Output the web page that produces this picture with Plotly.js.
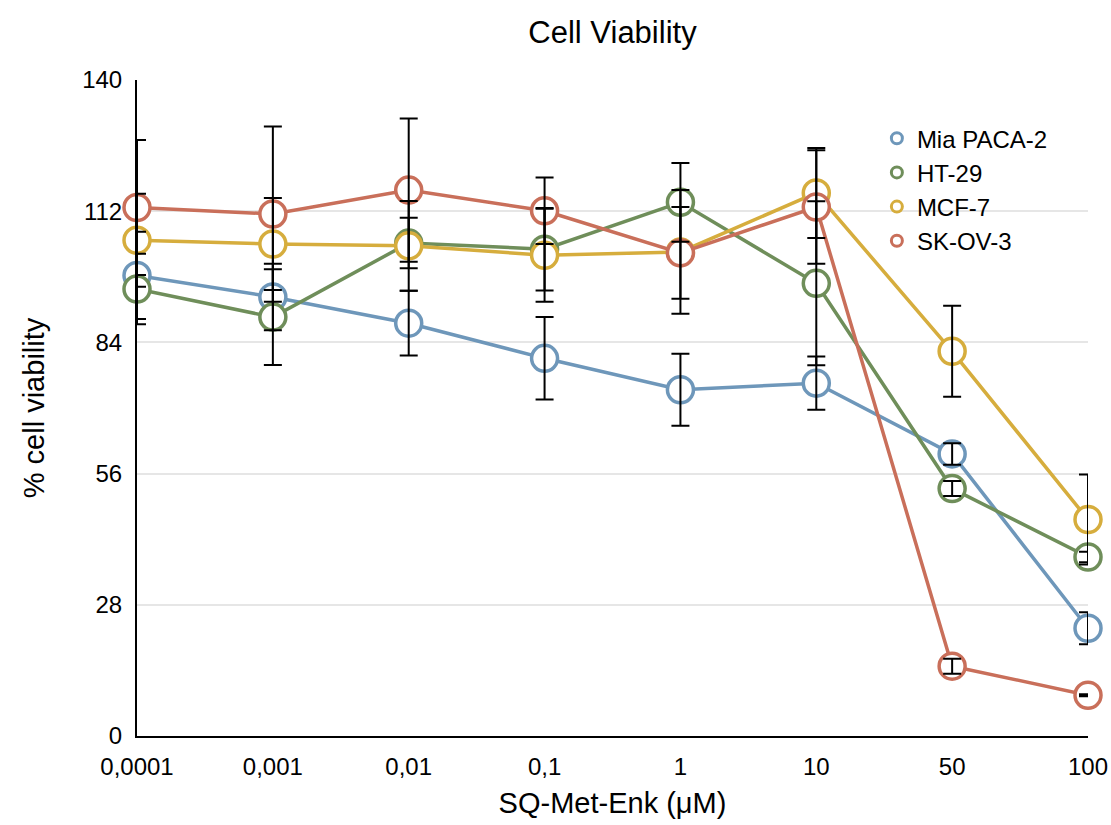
<!DOCTYPE html>
<html>
<head>
<meta charset="utf-8">
<script src="https://cdn.plot.ly/plotly-3.0.1.min.js"></script>
<style>html,body{margin:0;padding:0;background:#fff;}#chart{width:1111px;height:825px;}</style>
</head>
<body>
<div id="chart"></div>
<script>
const categories = ["0,0001", "0,001", "0,01", "0,1", "1", "10", "50", "100"];
const seriesNames = ["Mia PACA-2", "HT-29", "MCF-7", "SK-OV-3"];
const miaPaca2 = [98.3, 93.7, 88.1, 80.6, 73.9, 75.3, 60.2, 23.0];
const miaPaca2Err = [9.3, 7.1, 6.9, 8.8, 7.7, 5.7, 2.3, 3.4];
const ht29 = [95.4, 89.4, 105.2, 103.9, 113.9, 96.6, 52.8, 38.2];
const ht29Err = [7.5, 10.2, 5.4, 8.8, 8.4, 17.5, 1.6, 1.1];
const mcf7 = [105.8, 105.0, 104.6, 102.6, 103.3, 115.9, 82.1, 46.2];
const mcf7Err = [9.9, 9.8, 9.6, 9.9, 13.2, 9.6, 9.7, 9.6];
const skov3 = [112.8, 111.4, 116.5, 112.1, 103.1, 112.9, 14.9, 8.7];
const skov3Err = [14.4, 18.7, 15.3, 7.1, 9.8, 12.1, 1.6, 0.2];
const yTicks = [0, 28, 56, 84, 112, 140];

const colors = ["#6e97ba", "#6f8e5a", "#d6ad3d", "#c96f5a"];
const values = [miaPaca2, ht29, mcf7, skov3];
const errors = [miaPaca2Err, ht29Err, mcf7Err, skov3Err];

const font = "Liberation Sans, Arial, Helvetica, sans-serif";
const traces = [];
for (let i = 0; i < 4; i++) {
  traces.push({
    type: "scatter", mode: "lines+markers", x: categories, y: values[i],
    name: seriesNames[i], showlegend: false, cliponaxis: false,
    line: {color: colors[i], width: 3.5},
    marker: {symbol: "circle", size: 26, color: "#ffffff", line: {color: colors[i], width: 3.5}}
  });
}
for (let i = 0; i < 4; i++) {
  traces.push({
    type: "scatter", mode: "markers", x: categories, y: values[i],
    showlegend: false, hoverinfo: "skip", cliponaxis: false,
    marker: {size: 1, opacity: 0},
    error_y: {type: "data", array: errors[i], visible: true, color: "#000000", thickness: 2, width: 9}
  });
}
for (let i = 0; i < 4; i++) {
  traces.push({
    type: "scatter", mode: "markers", x: [null], y: [null], name: seriesNames[i],
    marker: {symbol: "circle", size: 11, color: "#ffffff", line: {color: colors[i], width: 3}}
  });
}

const layout = {
  width: 1111, height: 825,
  margin: {l: 137, r: 23, t: 80, b: 89},
  paper_bgcolor: "#ffffff", plot_bgcolor: "#ffffff",
  font: {family: font, color: "#000000", size: 24},
  title: {text: "Cell Viability", font: {family: font, size: 31, color: "#000"}, x: 0.5, xref: "paper", y: 1 - 32/825, yref: "container", yanchor: "middle"},
  xaxis: {
    type: "category", range: [0, 7], showgrid: false, zeroline: false,
    showline: true, linecolor: "#000", linewidth: 2, ticks: "",
    ticklabelstandoff: 8,
    tickfont: {family: font, size: 24, color: "#000"},
    title: {text: "SQ-Met-Enk (μM)", font: {family: font, size: 29, color: "#000"}, standoff: 14}
  },
  yaxis: {
    range: [0, 140], tickvals: yTicks, ticktext: yTicks.map(String),
    showgrid: true, gridcolor: "#e6e6e6", gridwidth: 2, zeroline: false,
    showline: true, linecolor: "#000", linewidth: 2, ticks: "",
    ticklabelstandoff: 8,
    tickfont: {family: font, size: 24, color: "#000"},
    title: {text: "% cell viability", font: {family: font, size: 29, color: "#000"}, standoff: 29}
  },
  legend: {x: 0.778, y: 0.945, xanchor: "left", yanchor: "top", bgcolor: "rgba(0,0,0,0)",
    font: {family: font, size: 24, color: "#000"}, tracegroupgap: 0, itemwidth: 30},
  showlegend: true
};

Plotly.newPlot("chart", traces, layout, {displayModeBar: false, staticPlot: true});
</script>
</body>
</html>
